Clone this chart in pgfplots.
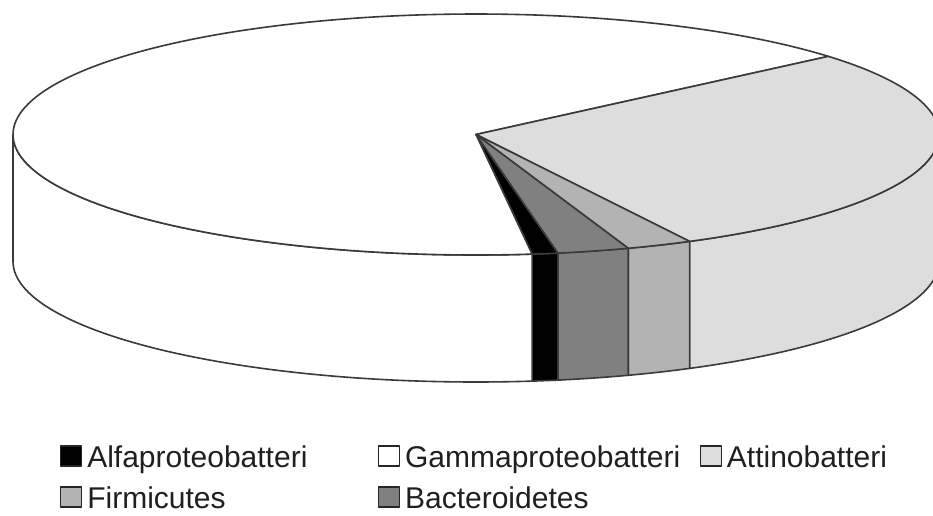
\documentclass[border=0pt]{standalone}
\usepackage{fontspec}
\setmainfont{Liberation Sans}
\usepackage{pgfplots}
\pgfplotsset{compat=1.18}
\usepackage{pgfplotstable}

\definecolor{cAlfa}{HTML}{000000}
\definecolor{cGamma}{HTML}{FFFFFF}
\definecolor{cAttino}{HTML}{DDDDDD}
\definecolor{cFirm}{HTML}{B3B3B3}
\definecolor{cBact}{HTML}{808080}
\definecolor{edge}{HTML}{3A3A3A}

% slice shares (percent), clockwise from the start angle
\pgfplotstableread{
name value color
Alfaproteobatteri 0.9 cAlfa
Gammaproteobatteri 65.7 cGamma
Attinobatteri 28.6 cAttino
Firmicutes 2.3 cFirm
Bacteroidetes 2.5 cBact
}\slicedata

% pie geometry (pixels)
\def\cx{476}\def\cy{134.5}\def\rx{463}\def\ry{120.5}\def\depth{127}\def\startang{-79.8}

\newcommand\arcpts[4]{%
  \foreach \i in {0,...,#4}{%
    \pgfmathsetmacro\myt{(#1)+((#2)-(#1))*(\i/#4)}%
    \pgfmathsetmacro\px{\cx+\rx*cos(\myt)}%
    \pgfmathsetmacro\py{\cy-\ry*sin(\myt)+(#3)}%
    \xdef\pts{\pts (\px,\py)}%
  }%
}

\xdef\acc{\startang}
\newcommand\computeslice[1]{%
  \pgfplotstablegetelem{#1}{value}\of\slicedata
  \pgfmathsetmacro\hi{\acc}%
  \pgfmathsetmacro\lo{\acc-3.6*\pgfplotsretval}%
  \xdef\acc{\lo}%
  \pgfmathparse{\hi<=-180?360:0}\let\shift\pgfmathresult
  \pgfmathsetmacro\hi{\hi+\shift}\pgfmathsetmacro\lo{\lo+\shift}%
  \expandafter\xdef\csname hi#1\endcsname{\hi}%
  \expandafter\xdef\csname lo#1\endcsname{\lo}%
  \pgfplotstablegetelem{#1}{color}\of\slicedata
  \expandafter\xdef\csname col#1\endcsname{\pgfplotsretval}%
  \pgfplotstablegetelem{#1}{name}\of\slicedata
  \expandafter\xdef\csname name#1\endcsname{\pgfplotsretval}%
}
\computeslice{0}\computeslice{1}\computeslice{2}\computeslice{3}\computeslice{4}

\newcommand\drawwall[1]{%
  \pgfmathsetmacro\wa{min(\csname hi#1\endcsname,0)}%
  \pgfmathsetmacro\wb{max(\csname lo#1\endcsname,-180)}%
  \pgfmathparse{\wa>\wb?1:0}%
  \ifdim\pgfmathresult pt>0.5pt
    \pgfmathtruncatemacro\N{max(4,(\wa-\wb)/1.5)}%
    \gdef\pts{}%
    \arcpts{\wa}{\wb}{0}{\N}%
    \arcpts{\wb}{\wa}{\depth}{\N}%
    \edef\cmd{\noexpand\addplot[forget plot, fill=\csname col#1\endcsname, draw=edge, line width=1.6pt, line join=round] coordinates {\pts} -- cycle;}%
    \cmd
  \fi
}

\newcommand\drawtop[2]{%
  \pgfmathsetmacro\wa{\csname hi#1\endcsname}%
  \pgfmathsetmacro\wb{\csname lo#1\endcsname}%
  \pgfmathtruncatemacro\N{max(4,(\wa-\wb)/1.5)}%
  \xdef\pts{(\cx,\cy)}%
  \arcpts{\wa}{\wb}{0}{\N}%
  \edef\cmd{\noexpand\addplot[fill=\csname col#1\endcsname, draw=edge, line width=1.6pt, line join=round] coordinates {\pts} -- cycle;
    \noexpand\addlegendentry{\noexpand\makebox[#2][l]{\csname name#1\endcsname}}}%
  \cmd
}

\begin{document}
\begin{tikzpicture}
\begin{axis}[
  scale only axis, width=933pt, height=515pt,
  xmin=0, xmax=933, ymin=0, ymax=515, y dir=reverse,
  axis line style={draw=none}, ticks=none,
  legend columns=3, legend cell align=left,
  legend image code/.code={\draw[#1,draw=black!85,line width=1.3pt] (0pt,-10pt) rectangle (21pt,10pt);},
  legend style={at={(axis cs:60,442)}, anchor=north west, draw=none, fill=none,
    inner sep=0pt, outer sep=0pt, row sep=13pt,
    font=\fontsize{30}{34}\selectfont, text=black!88,
    nodes={inner sep=0pt, text height=25pt, text depth=3pt},
    /tikz/every odd column/.style={column sep=5pt},
    /tikz/every even column/.style={column sep=0pt}},
]
\drawwall{0}\drawwall{1}\drawwall{2}\drawwall{3}\drawwall{4}
\drawtop{0}{290.5pt}
\drawtop{1}{294.5pt}
\drawtop{2}{180pt}
\drawtop{3}{290.5pt}
\drawtop{4}{294.5pt}
\end{axis}
\end{tikzpicture}
\end{document}
